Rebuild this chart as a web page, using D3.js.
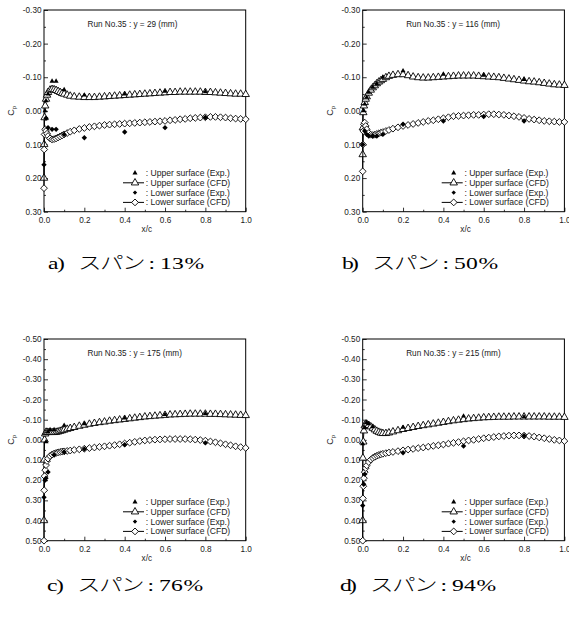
<!DOCTYPE html>
<html>
<head>
<meta charset="utf-8">
<script src="https://cdnjs.cloudflare.com/ajax/libs/d3/7.8.5/d3.min.js"></script>
<style>
  body { margin: 0; background: #fff; }
  svg { display: block; font-family: "Liberation Sans", Arial, sans-serif; }
</style>
</head>
<body>
<div id="graphic_area"></div>
<script>
// chord positions of the CFD surface points (x/c)
const cfdX = [0, 0.001, 0.003, 0.006, 0.01, 0.015, 0.02, 0.03, 0.04, 0.05, 0.06, 0.07, 0.08, 0.09, 0.1,
  0.115, 0.13, 0.15, 0.175, 0.2, 0.225, 0.25, 0.275, 0.3, 0.325, 0.35, 0.375, 0.4, 0.425, 0.45, 0.475,
  0.5, 0.525, 0.55, 0.575, 0.6, 0.625, 0.65, 0.675, 0.7, 0.725, 0.75, 0.775, 0.8, 0.825, 0.85, 0.875,
  0.9, 0.925, 0.95, 0.975, 1.0];

// a) y = 29 mm
const upperCfdA = [0.20, 0.10, 0.02, -0.015, -0.035, -0.047, -0.055, -0.062, -0.064, -0.063, -0.061, -0.058, -0.055, -0.052, -0.050,
  -0.047, -0.044, -0.042, -0.041, -0.040, -0.040, -0.040, -0.041, -0.042, -0.043, -0.044, -0.045, -0.046, -0.047, -0.048, -0.049,
  -0.050, -0.051, -0.052, -0.053, -0.054, -0.055, -0.055, -0.056, -0.056, -0.056, -0.056, -0.056, -0.055, -0.055, -0.054, -0.053,
  -0.052, -0.051, -0.050, -0.050, -0.049];
const lowerCfdA = [0.23, 0.115, 0.07, 0.055, 0.06, 0.068, 0.075, 0.082, 0.085, 0.084, 0.082, 0.079, 0.076, 0.073, 0.070,
  0.066, 0.062, 0.058, 0.054, 0.051, 0.048, 0.046, 0.044, 0.042, 0.041, 0.040, 0.039, 0.038, 0.037, 0.036, 0.035,
  0.034, 0.033, 0.032, 0.031, 0.030, 0.028, 0.027, 0.025, 0.024, 0.022, 0.021, 0.020, 0.019, 0.018, 0.018, 0.019,
  0.020, 0.022, 0.023, 0.024, 0.025];
const upperExpXA = [0.005, 0.01, 0.02, 0.04, 0.06, 0.1, 0.2, 0.4, 0.6, 0.8];
const upperExpA = [0.0, -0.03, -0.05, -0.088, -0.088, -0.063, -0.047, -0.05, -0.058, -0.057];
const lowerExpXA = [0, 0.01, 0.02, 0.04, 0.06, 0.1, 0.2, 0.4, 0.6, 0.8];
const lowerExpA = [0.16, 0.022, 0.05, 0.055, 0.055, 0.07, 0.08, 0.063, 0.05, 0.02];

// b) y = 116 mm
const upperCfdB = [0.13, 0.05, 0.005, -0.015, -0.025, -0.035, -0.042, -0.053, -0.062, -0.069, -0.075, -0.081, -0.086, -0.090, -0.094,
  -0.099, -0.103, -0.106, -0.108, -0.108, -0.105, -0.101, -0.099, -0.098, -0.098, -0.099, -0.100, -0.101, -0.102, -0.103, -0.104,
  -0.104, -0.104, -0.104, -0.103, -0.102, -0.101, -0.100, -0.099, -0.097, -0.095, -0.093, -0.091, -0.089, -0.087, -0.086, -0.084,
  -0.082, -0.080, -0.078, -0.077, -0.076];
const lowerCfdB = [0.18, 0.10, 0.06, 0.04, 0.035, 0.045, 0.055, 0.066, 0.071, 0.072, 0.071, 0.069, 0.067, 0.065, 0.063,
  0.060, 0.057, 0.053, 0.049, 0.045, 0.042, 0.039, 0.036, 0.033, 0.030, 0.028, 0.025, 0.022, 0.019, 0.016, 0.015,
  0.014, 0.013, 0.012, 0.012, 0.011, 0.010, 0.010, 0.011, 0.012, 0.014, 0.016, 0.018, 0.021, 0.024, 0.026, 0.028,
  0.030, 0.031, 0.032, 0.033, 0.033];
const upperExpXB = [0.005, 0.01, 0.02, 0.03, 0.05, 0.07, 0.1, 0.2, 0.4, 0.6, 0.8];
const upperExpB = [0.0, -0.02, -0.04, -0.055, -0.07, -0.08, -0.1, -0.119, -0.109, -0.106, -0.093];
const lowerExpXB = [0, 0.01, 0.02, 0.03, 0.05, 0.07, 0.1, 0.2, 0.4, 0.6, 0.8];
const lowerExpB = [0.10, 0.06, 0.07, 0.075, 0.075, 0.075, 0.07, 0.04, 0.03, 0.017, 0.03];

// c) y = 175 mm
const upperCfdC = [0.40, 0.10, 0.0, -0.03, -0.038, -0.038, -0.037, -0.037, -0.037, -0.037, -0.038, -0.040, -0.043, -0.046, -0.049,
  -0.053, -0.057, -0.062, -0.068, -0.073, -0.078, -0.082, -0.086, -0.089, -0.093, -0.096, -0.099, -0.102, -0.105, -0.108, -0.111,
  -0.114, -0.116, -0.118, -0.120, -0.122, -0.124, -0.125, -0.126, -0.127, -0.128, -0.128, -0.128, -0.128, -0.127, -0.127, -0.126,
  -0.125, -0.124, -0.123, -0.122, -0.121];
const lowerCfdC = [0.50, 0.25, 0.18, 0.15, 0.125, 0.105, 0.093, 0.080, 0.073, 0.068, 0.065, 0.062, 0.060, 0.058, 0.057,
  0.055, 0.053, 0.050, 0.047, 0.044, 0.041, 0.038, 0.035, 0.032, 0.029, 0.026, 0.022, 0.018, 0.014, 0.010, 0.006,
  0.003, 0.001, -0.001, -0.002, -0.003, -0.004, -0.004, -0.004, -0.004, -0.003, -0.001, 0.001, 0.004, 0.008, 0.012, 0.017,
  0.022, 0.027, 0.032, 0.036, 0.040];
const upperExpXC = [0.01, 0.02, 0.03, 0.05, 0.1, 0.2, 0.4, 0.6, 0.8];
const upperExpC = [0.01, -0.04, -0.05, -0.05, -0.072, -0.08, -0.108, -0.125, -0.13];
const lowerExpXC = [0, 0.005, 0.01, 0.02, 0.05, 0.1, 0.2, 0.4, 0.8];
const lowerExpC = [0.285, 0.20, 0.19, 0.16, 0.075, 0.06, 0.045, 0.024, 0.015];

// d) y = 215 mm
const upperCfdD = [0.40, 0.09, 0.01, -0.045, -0.07, -0.078, -0.078, -0.072, -0.065, -0.058, -0.050, -0.043, -0.038, -0.034, -0.032,
  -0.032, -0.035, -0.040, -0.046, -0.052, -0.057, -0.062, -0.067, -0.071, -0.075, -0.079, -0.083, -0.087, -0.091, -0.095, -0.098,
  -0.101, -0.104, -0.106, -0.108, -0.110, -0.111, -0.112, -0.113, -0.113, -0.113, -0.114, -0.114, -0.114, -0.114, -0.114, -0.114,
  -0.114, -0.113, -0.113, -0.113, -0.112];
const lowerCfdD = [0.50, 0.29, 0.23, 0.19, 0.16, 0.14, 0.127, 0.11, 0.098, 0.09, 0.084, 0.079, 0.075, 0.072, 0.069,
  0.066, 0.063, 0.060, 0.056, 0.052, 0.048, 0.045, 0.041, 0.038, 0.034, 0.030, 0.027, 0.023, 0.019, 0.015, 0.011,
  0.007, 0.003, 0.0, -0.004, -0.008, -0.011, -0.014, -0.017, -0.019, -0.021, -0.022, -0.022, -0.021, -0.019, -0.016, -0.012,
  -0.008, -0.004, 0.0, 0.003, 0.006];
const upperExpXD = [0.0, 0.01, 0.02, 0.03, 0.05, 0.2, 0.5, 0.8];
const upperExpD = [0.02, -0.06, -0.085, -0.08, -0.065, -0.062, -0.118, -0.114];
const lowerExpXD = [0, 0.005, 0.01, 0.2, 0.5, 0.8];
const lowerExpD = [0.326, 0.22, 0.17, 0.064, 0.031, -0.02];

const panelTitles = ["Run No.35 : y = 29 (mm)", "Run No.35 : y = 116 (mm)", "Run No.35 : y = 175 (mm)", "Run No.35 : y = 215 (mm)"];
const captions = ["a) スパン : 13%", "b) スパン : 50%", "c) スパン : 76%", "d) スパン : 94%"];
const yTicksTop = [-0.30, -0.20, -0.10, 0.00, 0.10, 0.20, 0.30];
const yTicksBottom = [-0.50, -0.40, -0.30, -0.20, -0.10, 0.00, 0.10, 0.20, 0.30, 0.40, 0.50];
const xTicks = [0.0, 0.2, 0.4, 0.6, 0.8, 1.0];
const xMinorTicks = [0.1, 0.3, 0.5, 0.7, 0.9];
const legendLabels = [": Upper surface (Exp.)", ": Upper surface (CFD)", ": Lower surface (Exp.)", ": Lower surface (CFD)"];

(function() {

  let width = 569;
  let height = 622;
  let plotSize = 201.7;
  // captions are stretched sideways in the original; offsets are per character, before the stretch
  let capStretch = 1.35;
  let capOffsets = [0, 6.7, 11, 22.2, 38.5, 54.8, 68, 74.5, 78, 83, 91.9, 101.2];

  let panels = [
    {left: 44, top: 10, dom: [-0.3, 0.3], ticks: yTicksTop, title: panelTitles[0], caption: captions[0], capX: 48, capY: 269,
      up: upperCfdA, low: lowerCfdA, upX: upperExpXA, upE: upperExpA, lowX: lowerExpXA, lowE: lowerExpA},
    {left: 362.7, top: 10, dom: [-0.3, 0.3], ticks: yTicksTop, title: panelTitles[1], caption: captions[1], capX: 342, capY: 269,
      up: upperCfdB, low: lowerCfdB, upX: upperExpXB, upE: upperExpB, lowX: lowerExpXB, lowE: lowerExpB},
    {left: 44, top: 339, dom: [-0.5, 0.5], ticks: yTicksBottom, title: panelTitles[2], caption: captions[2], capX: 47, capY: 590.5,
      up: upperCfdC, low: lowerCfdC, upX: upperExpXC, upE: upperExpC, lowX: lowerExpXC, lowE: lowerExpC},
    {left: 362.7, top: 339, dom: [-0.5, 0.5], ticks: yTicksBottom, title: panelTitles[3], caption: captions[3], capX: 340, capY: 590.5,
      up: upperCfdD, low: lowerCfdD, upX: upperExpXD, upE: upperExpD, lowX: lowerExpXD, lowE: lowerExpD}
  ];

  let svg = d3.select("#graphic_area").append("svg")
    .attr("width", width)
    .attr("height", height);

  svg.append("rect").attr("width", width).attr("height", height).attr("fill", "#fff");

  // marker shapes
  let openTriangle = d3.symbol().type(d3.symbolTriangle).size(24);
  let filledTriangle = d3.symbol().type(d3.symbolTriangle).size(11);
  function diamond(r) {
    return "M0," + (-r) + "L" + r + ",0L0," + r + "L" + (-r) + ",0Z";
  }

  panels.forEach(drawPanel);

  function drawPanel(p) {
    let g = svg.append("g").attr("transform", "translate(" + p.left + "," + p.top + ")");

    let xScale = d3.scaleLinear().domain([0, 1]).range([0, plotSize]);
    let yScale = d3.scaleLinear().domain(p.dom).range([0, plotSize]);
    let minorY = d3.range(p.dom[0] + 0.05, p.dom[1], 0.1);

    // axes, ticks pointing inward
    g.append("g")
      .call(d3.axisLeft(yScale).tickValues(p.ticks).tickSize(-4).tickSizeOuter(0).tickPadding(2.5)
        .tickFormat(function(d) { return d.toFixed(2); }));
    g.append("g")
      .call(d3.axisLeft(yScale).tickValues(minorY).tickSize(-2).tickSizeOuter(0).tickFormat(""));
    g.append("g")
      .attr("transform", "translate(0," + plotSize + ")")
      .call(d3.axisBottom(xScale).tickValues(xTicks).tickSize(-4).tickSizeOuter(0).tickPadding(5)
        .tickFormat(function(d) { return d.toFixed(1); }));
    g.append("g")
      .attr("transform", "translate(0," + plotSize + ")")
      .call(d3.axisBottom(xScale).tickValues(xMinorTicks).tickSize(-2).tickSizeOuter(0).tickFormat(""));

    g.selectAll(".domain").remove();
    g.selectAll(".tick line").attr("stroke", "#000").attr("stroke-width", 0.8);
    g.selectAll(".tick text").attr("font-size", 8.2).attr("fill", "#1a1a1a")
      .attr("font-family", "'Liberation Sans', Arial, sans-serif");

    // frame
    g.append("rect")
      .attr("width", plotSize).attr("height", plotSize)
      .attr("fill", "none").attr("stroke", "#000").attr("stroke-width", 1);

    // axis titles
    g.append("text")
      .attr("x", plotSize / 2 + 2).attr("y", plotSize + 20.5)
      .attr("text-anchor", "middle").attr("font-size", 8.2).attr("fill", "#1a1a1a")
      .text("x/c");

    let cp = g.append("text")
      .attr("transform", "translate(-30," + (plotSize / 2) + ") rotate(-90)")
      .attr("text-anchor", "middle").attr("font-size", 9).attr("fill", "#1a1a1a");
    cp.append("tspan").text("C");
    cp.append("tspan").attr("font-size", 6).attr("dy", 2).text("p");

    g.append("text")
      .attr("x", 43.5).attr("y", 17.3)
      .attr("font-size", 8.2).attr("fill", "#1a1a1a")
      .text(p.title);

    // CFD curves
    let line = d3.line()
      .x(function(d, i) { return xScale(cfdX[i]); })
      .y(function(d) { return yScale(d); });

    [p.up, p.low].forEach(function(series, k) {
      g.append("path")
        .datum(series)
        .attr("d", line)
        .attr("fill", "none")
        .attr("stroke", "#000")
        .attr("stroke-width", 1);

      g.selectAll(".cfd" + k)
        .data(series)
        .enter().append("path")
        .attr("class", "cfd" + k)
        .attr("transform", function(d, i) { return "translate(" + xScale(cfdX[i]) + "," + yScale(d) + ")"; })
        .attr("d", k == 0 ? openTriangle : diamond(3.4))
        .attr("fill", "#fff")
        .attr("stroke", "#000")
        .attr("stroke-width", 0.9);
    });

    // experiment points
    g.selectAll(".expUp")
      .data(p.upE)
      .enter().append("path")
      .attr("class", "expUp")
      .attr("transform", function(d, i) { return "translate(" + xScale(p.upX[i]) + "," + yScale(d) + ")"; })
      .attr("d", filledTriangle)
      .attr("fill", "#000");

    g.selectAll(".expLow")
      .data(p.lowE)
      .enter().append("path")
      .attr("class", "expLow")
      .attr("transform", function(d, i) { return "translate(" + xScale(p.lowX[i]) + "," + yScale(d) + ")"; })
      .attr("d", diamond(2.7))
      .attr("fill", "#000");

    // legend
    let legend = g.append("g").attr("transform", "translate(0,163)");
    legendLabels.forEach(function(label, i) {
      let row = legend.append("g").attr("transform", "translate(0," + (i * 9.8) + ")");
      if (i == 1 || i == 3) {
        row.append("line")
          .attr("x1", 79).attr("x2", 100).attr("y1", 0).attr("y2", 0)
          .attr("stroke", "#000").attr("stroke-width", 1);
      }
      let mark = row.append("path").attr("transform", "translate(91,0)");
      if (i == 0) mark.attr("d", filledTriangle).attr("fill", "#000");
      if (i == 1) mark.attr("d", openTriangle).attr("fill", "#fff").attr("stroke", "#000").attr("stroke-width", 0.9);
      if (i == 2) mark.attr("d", diamond(2.2)).attr("fill", "#000");
      if (i == 3) mark.attr("d", diamond(3.4)).attr("fill", "#fff").attr("stroke", "#000").attr("stroke-width", 0.9);
      row.append("text")
        .attr("x", 101.7).attr("y", 3)
        .attr("font-size", 8.6).attr("fill", "#1a1a1a")
        .text(label);
    });

    // caption under the panel
    svg.append("text")
      .attr("transform", "translate(" + p.capX + "," + p.capY + ") scale(" + capStretch + ",1)")
      .attr("x", capOffsets.join(" "))
      .attr("y", 0)
      .attr("font-family", "'Liberation Serif', 'Noto Sans CJK JP', serif")
      .attr("font-size", 17.5)
      .attr("font-weight", 300)
      .attr("fill", "#000")
      .text(p.caption);
  }
})();
</script>
</body>
</html>
